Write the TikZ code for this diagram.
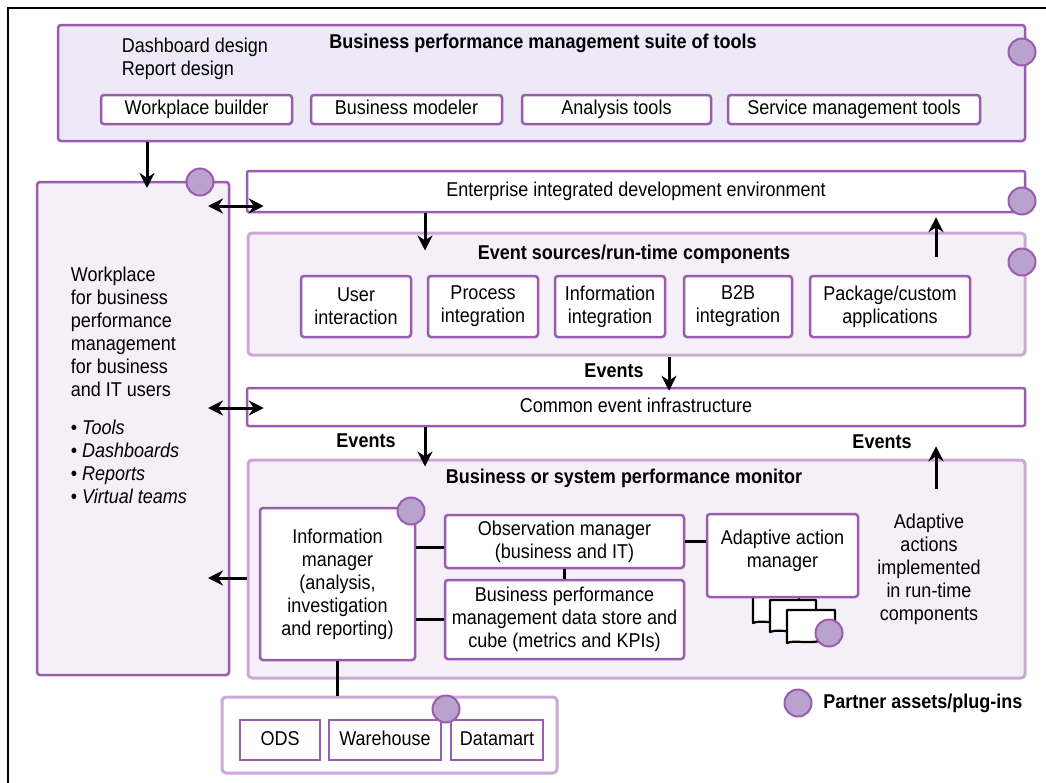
\documentclass[tikz,border=0pt]{standalone}
\usepackage{fontspec}
\setmainfont[FakeStretch=0.9]{Liberation Sans}
\usetikzlibrary{positioning,arrows.meta}
\definecolor{bpmPurple}{HTML}{9A5CAE}
\definecolor{bpmLight}{HTML}{CBA8D6}
\definecolor{bpmFill}{HTML}{EEE9F6}
\definecolor{bpmPale}{HTML}{F5EFF8}
\definecolor{bpmPlug}{HTML}{B9A2CD}
\begin{document}
\begin{tikzpicture}[x=1pt,y=-1pt,
    box/.style={draw=bpmPurple, line width=2.5pt, fill=white, rounded corners=3pt, inner sep=0pt, align=center},
    tool/.style={box, text height=14pt, text depth=4pt},
    panel/.style={draw=bpmLight, line width=3pt, fill=bpmPale, rounded corners=4pt, inner sep=0pt},
    plug/.style={circle, draw=bpmPurple, fill=bpmPlug, line width=2pt, minimum size=27pt, inner sep=0pt},
    arr/.style={-{Stealth[length=15pt,width=15pt]}, line width=3pt},
    darr/.style={{Stealth[length=15pt,width=15pt]}-{Stealth[length=15pt,width=15pt]}, line width=3pt},
    link/.style={line width=3pt},
    doc/.style={draw=black, fill=white, line width=2.2pt, line join=round}]
    \useasboundingbox (0,0) rectangle (1046,782);
    \fontsize{20}{23}\selectfont
    % frame
    \draw[line width=2pt] (8,790) -- (8,8) -- (1050,8);

    % Suite of tools
    \node[box, fill=bpmFill, minimum width=967pt, minimum height=116pt] (suite) at (541.5,83) {};
    \node[font=\bfseries] (suiteTitle) at (543,43) {Business performance management suite of tools};
    \node[anchor=west, align=left] (design) at (115,59) {Dashboard design\\Report design};
    \node[tool, minimum width=191pt, minimum height=29pt] (wpb) at (196.5,109.5) {Workplace builder};
    \node[tool, minimum width=191pt, minimum height=29pt] (bmod) at (406.5,109.5) {Business modeler};
    \node[tool, minimum width=189pt, minimum height=29pt] (anat) at (616.5,109.5) {Analysis tools};
    \node[tool, minimum width=252pt, minimum height=29pt] (smt) at (854,109.5) {Service management tools};
    \node[plug] (suitePlug) at (1022,52) {};

    % Workplace
    \node[box, fill=bpmPale, minimum width=192pt, minimum height=493pt] (work) at (133,428.5) {};
    \node[anchor=north west, align=left] (workText) at (64,260) {Workplace\\for business\\performance\\management\\for business\\and IT users\\[15pt]
        \textbullet\ \textit{Tools}\\\textbullet\ \textit{Dashboards}\\\textbullet\ \textit{Reports}\\\textbullet\ \textit{Virtual teams}};
    \node[plug] (workPlug) at (200,182) {};

    % IDE
    \node[tool, rounded corners=2pt, minimum width=778pt, minimum height=41pt] (ide) at (636,191.5) {Enterprise integrated development environment};
    \node[plug] (idePlug) at (1022,201) {};

    % Event sources
    \node[panel, minimum width=777pt, minimum height=122pt] (evs) at (636.5,294) {};
    \node[font=\bfseries] (evsTitle) at (634,254) {Event sources/run-time components};
    \node[box, minimum width=110pt, minimum height=61pt] (ui) at (356,306.5) {User\\interaction};
    \node[box, minimum width=110pt, minimum height=61pt] (pi) at (483,306.5) {Process\\integration};
    \node[box, minimum width=110pt, minimum height=61pt] (ii) at (610,306.5) {Information\\integration};
    \node[box, minimum width=108pt, minimum height=61pt] (b2b) at (738,306.5) {B2B\\integration};
    \node[box, minimum width=160pt, minimum height=61pt] (pkg) at (890,306.5) {Package/custom\\applications};
    \node[plug] (evsPlug) at (1022,262) {};

    % Common event infrastructure
    \node[tool, rounded corners=2pt, minimum width=778pt, minimum height=38pt] (cei) at (636,407) {Common event infrastructure};

    % Monitor
    \node[panel, minimum width=777pt, minimum height=218pt] (mon) at (636.5,569) {};
    \node[font=\bfseries] (monTitle) at (624,478) {Business or system performance monitor};
    \node[box, minimum width=155pt, minimum height=152pt] (info) at (337.5,584) {Information\\manager\\(analysis,\\investigation\\and reporting)};
    \node[plug] (infoPlug) at (411,511) {};
    \node[box, minimum width=239pt, minimum height=53pt] (obs) at (564.5,541.5) {Observation manager\\(business and IT)};
    \node[box, minimum width=239pt, minimum height=79pt] (store) at (564.5,619.5) {Business performance\\management data store and\\cube (metrics and KPIs)};
    % documents
    \draw[doc] (753,597) -- (753,623) .. controls (762,619) and (770,626) .. (799,618) -- (799,597);
    \draw[doc] (770,600) -- (770,632) .. controls (780,628) and (788,635) .. (816,627) -- (816,600) -- cycle;
    \draw[doc] (787,610) -- (787,643) .. controls (797,639) and (805,646) .. (835,638) -- (835,610) -- cycle;
    \node[box, minimum width=151pt, minimum height=83pt] (aam) at (782.5,555.5) {Adaptive action\\manager\\[-9pt]\mbox{}};
    \node[plug] (docPlug) at (829,633) {};
    \node[align=center] (adapt) at (929,569) {Adaptive\\actions\\implemented\\in run-time\\components};

    % Data stores
    \node[panel, fill=white, minimum width=335pt, minimum height=76pt] (data) at (389.5,735) {};
    \node[tool, rounded corners=0pt, minimum width=80pt, minimum height=40pt] (ods) at (280,740) {ODS};
    \node[tool, rounded corners=0pt, minimum width=112pt, minimum height=40pt] (wh) at (385,740) {Warehouse};
    \node[tool, rounded corners=0pt, minimum width=92pt, minimum height=40pt] (dm) at (497,740) {Datamart};
    \node[plug] (dataPlug) at (446,709) {};

    % Legend
    \node[plug] (legPlug) at (798,703) {};
    \node[font=\bfseries, anchor=west, right=4pt of legPlug] (legText) {Partner assets/plug-ins};

    % Events labels
    \node[font=\bfseries] (ev1) at (614,371) {Events};
    \node[font=\bfseries] (ev2) at (366,441) {Events};
    \node[font=\bfseries] (ev3) at (882,442) {Events};

    % Connectors
    \coordinate (colA) at (425,0);
    \coordinate (colB) at (936,0);
    \coordinate (colC) at (669,0);
    \coordinate (wpIn) at (147,188);
    \coordinate (ideL) at (208,206);
    \coordinate (ceiL) at (208,408);
    \coordinate (monOut) at (208,578);
    \draw[arr] (suite.south -| wpIn) -- (wpIn);
    \draw[darr] (ideL) -- ([xshift=18pt]ideL -| ide.west);
    \draw[darr] (ceiL) -- ([xshift=18pt]ceiL -| cei.west);
    \draw[arr] (ide.south -| colA) -- ([yshift=-19pt]evs.north -| colA);
    \draw[arr] ([yshift=-25pt]evs.north -| colB) -- ([yshift=-4pt]ide.south -| colB);
    \draw[arr] (evs.south -| colC) -- ([yshift=-4pt]cei.north -| colC);
    \draw[arr] (cei.south -| colA) -- ([yshift=-8pt]mon.north -| colA);
    \draw[arr] ([yshift=-30pt]mon.north -| colB) -- ([yshift=-19pt]cei.south -| colB);
    \draw[arr] (mon.west |- monOut) -- (monOut);
    \draw[link] ([yshift=-6pt]info.east |- obs.west) -- ([yshift=-6pt]obs.west);
    \draw[link] (info.east |- store.west) -- (store.west);
    \draw[link] (obs.south) -- (store.north);
    \draw[link] (obs.east) -- (obs.east -| aam.west);
    \draw[link] (info.south) -- (info.south |- data.north);

\end{tikzpicture}
\end{document}
